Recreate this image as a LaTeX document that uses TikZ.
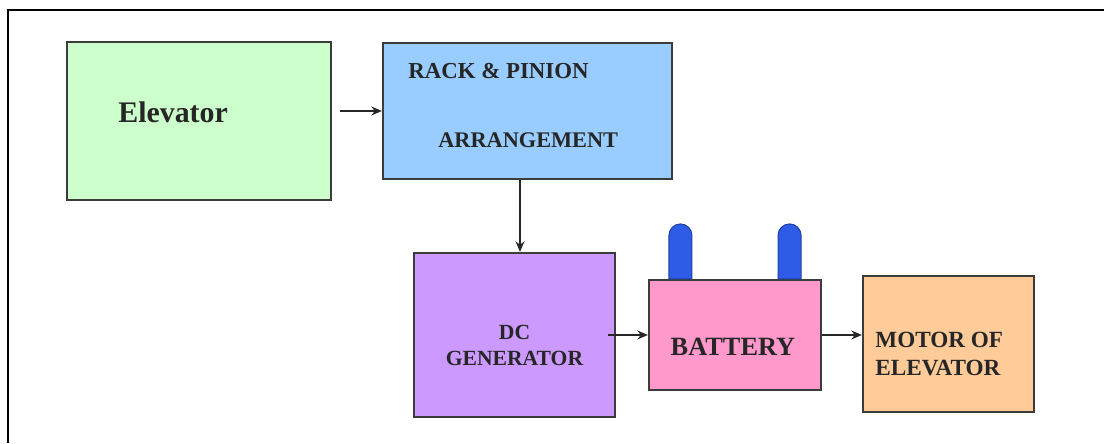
\documentclass[tikz,border=0pt]{standalone}
\usepackage{fontspec}
\setmainfont{Liberation Serif}
\usetikzlibrary{arrows.meta,positioning,calc}
\definecolor{elevgreen}{RGB}{204,255,204}
\definecolor{rackblue}{RGB}{153,204,255}
\definecolor{genpurple}{RGB}{204,153,255}
\definecolor{battpink}{RGB}{255,153,204}
\definecolor{motororange}{RGB}{255,204,153}
\definecolor{termblue}{RGB}{46,92,230}
\definecolor{edgegray}{RGB}{60,60,60}

\begin{document}
\begin{tikzpicture}[
  block/.style={rectangle, draw=edgegray, line width=1.2pt, inner sep=0pt},
  arrow/.style={-{Stealth[length=6pt,width=5pt]}, line width=1pt, black!85},
  txt/.style={font=\bfseries, color=black!85, inner sep=0pt, align=center},
  terminal/.style={fill=termblue, draw=termblue!70!black, line width=0.6pt}
]
\useasboundingbox (0,0) rectangle (22.08,8.86);
% Outer frame (cut off at right and bottom)
\draw[line width=1pt] (22.08,8.66) -- (0.16,8.66) -- (0.16,0);

% Blocks
\node[block, fill=elevgreen, minimum width=5.28cm, minimum height=3.16cm] (elev) at (3.98,6.44) {};
\node[block, fill=rackblue, minimum width=5.78cm, minimum height=2.72cm] (rack) at (10.55,6.64) {};
\node[block, fill=genpurple, minimum width=4.02cm, minimum height=3.28cm] (dcgen) at (10.29,2.16) {};
\node[block, fill=battpink, minimum width=3.44cm, minimum height=2.20cm] (batt) at (14.70,2.16) {};
\node[block, fill=motororange, minimum width=3.42cm, minimum height=2.72cm] (motor) at (18.97,1.98) {};

% Battery terminals
\draw[terminal] ([xshift=0.42cm]batt.north west) -- ++(0,0.87) arc[start angle=180, end angle=0, radius=0.23cm] -- ++(0,-0.87) -- cycle;
\draw[terminal] ([xshift=-0.88cm]batt.north east) -- ++(0,0.87) arc[start angle=180, end angle=0, radius=0.23cm] -- ++(0,-0.87) -- cycle;

% Texts
\node[txt, anchor=west, font=\fontsize{17}{20}\selectfont\bfseries] (elevtxt) at (2.36,6.62) {Elevator};
\node[txt, anchor=west, font=\fontsize{13}{15}\selectfont\bfseries] (racktxt) at (8.16,7.44) {RACK \& PINION};
\node[txt, anchor=west, font=\fontsize{12.7}{15}\selectfont\bfseries] (arrtxt) at (8.76,6.06) {ARRANGEMENT};
\node[txt, font=\fontsize{12.3}{14.8}\selectfont\bfseries] (dctxt) at (10.29,1.96) {DC\\GENERATOR};
\node[txt, font=\fontsize{15}{18}\selectfont\bfseries] (batttxt) at (14.66,1.92) {BATTERY};
\node[txt, anchor=west, align=left, font=\fontsize{13.2}{16}\selectfont\bfseries] (motortxt) at (17.50,1.78) {MOTOR OF\\ELEVATOR};

% Arrows
\draw[arrow] ([xshift=4.5pt]elev.east |- rack.west) -- (rack.west);
\draw[arrow] ([xshift=-0.15cm]rack.south) -- ([xshift=-0.15cm]rack.south |- dcgen.north);
\draw[arrow] ([xshift=-0.16cm]dcgen.east) -- (batt.west);
\draw[arrow] (batt.east) -- (batt.east -| motor.west);
\end{tikzpicture}
\end{document}
